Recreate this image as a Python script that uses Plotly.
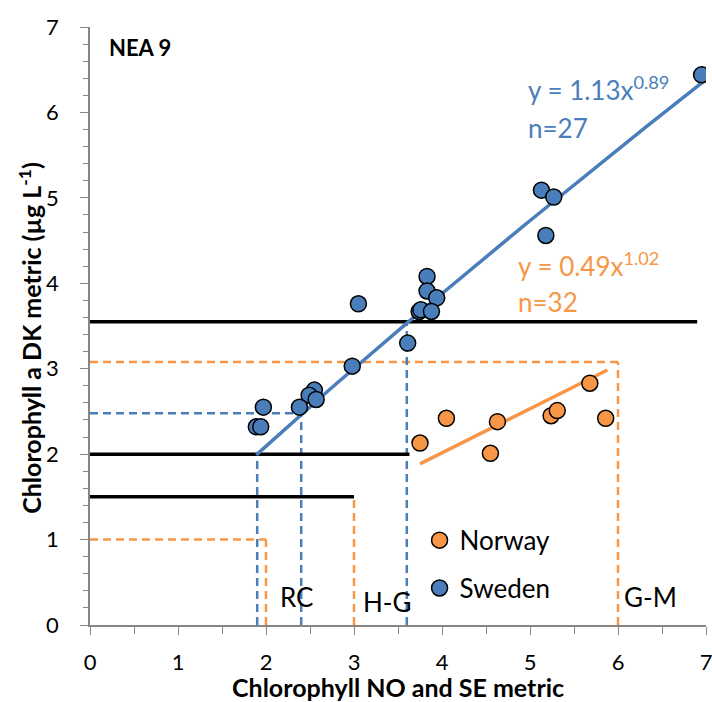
import numpy as np
import plotly.graph_objects as go

# ---- data ----
sweden_x = [6.95, 5.13, 5.27, 5.18, 3.83, 3.83, 3.94, 3.74, 3.76, 3.88, 3.61, 3.05, 2.98,
            2.55, 2.49, 2.57, 2.38, 1.97, 1.89, 1.94]
sweden_y = [6.44, 5.09, 5.01, 4.56, 4.08, 3.91, 3.83, 3.67, 3.69, 3.67, 3.30, 3.76, 3.03,
            2.75, 2.69, 2.64, 2.55, 2.55, 2.32, 2.32]
norway_x = [3.75, 4.05, 4.63, 4.55, 5.24, 5.31, 5.86, 5.68]
norway_y = [2.13, 2.42, 2.38, 2.01, 2.45, 2.51, 2.42, 2.83]

# power trendlines as stated on the chart
sweden_fit = (1.13, 0.89, 1.89, 6.97)   # a, b, xmin, xmax
norway_fit = (0.49, 1.02, 3.75, 5.88)

# DK class boundaries (black lines): y value and x extent
dk_bound_y = [3.55, 2.0, 1.5]
dk_bound_xend = [6.9, 3.63, 3.0]

# Swedish boundaries (blue dashed)
se_bound_x = [1.9, 2.4, 3.6]
se_bound_y = [2.0, 2.48, 3.55]
se_bound_h = [False, True, False]

# Norwegian boundaries (orange dashed)
no_bound_x = [2.0, 3.0, 6.0]
no_bound_y = [1.0, 1.5, 3.08]
no_bound_h = [True, False, True]

BLUE = "#4A7EBB"
ORANGE = "#F79646"
FONT = "Lato"

fig = go.Figure()

def dashed(xs, ys, hs, color):
    for bx, by, h in zip(xs, ys, hs):
        fig.add_trace(go.Scatter(x=[bx, bx], y=[0, by], mode="lines",
                                 line=dict(color=color, width=2.5, dash="8px,5px"),
                                 showlegend=False, hoverinfo="skip"))
        if h:
            fig.add_trace(go.Scatter(x=[0, bx], y=[by, by], mode="lines",
                                     line=dict(color=color, width=2.5, dash="8px,5px"),
                                     showlegend=False, hoverinfo="skip"))

dashed(no_bound_x, no_bound_y, no_bound_h, ORANGE)
dashed(se_bound_x, se_bound_y, se_bound_h, BLUE)

for by, xe in zip(dk_bound_y, dk_bound_xend):
    fig.add_trace(go.Scatter(x=[0, xe], y=[by, by], mode="lines",
                             line=dict(color="black", width=3.5),
                             showlegend=False, hoverinfo="skip"))

for (a, b, x0, x1), col in [(sweden_fit, BLUE), (norway_fit, ORANGE)]:
    xx = np.linspace(x0, x1, 40)
    fig.add_trace(go.Scatter(x=xx, y=a * xx ** b, mode="lines",
                             line=dict(color=col, width=3.5),
                             showlegend=False, hoverinfo="skip"))

fig.add_trace(go.Scatter(x=norway_x, y=norway_y, mode="markers", name="Norway",
                         legendgroup="no",
                         marker=dict(color=ORANGE, size=16, line=dict(color="black", width=1.5))))
fig.add_trace(go.Scatter(x=sweden_x, y=sweden_y, mode="markers", name="Sweden",
                         legendgroup="se",
                         marker=dict(color=BLUE, size=16, line=dict(color="black", width=1.5))))

ann = [
    dict(x=0.19, y=6.76, text="<b>NEA 9</b>", xanchor="left", font=dict(size=22, color="black")),
    dict(x=2.35, y=0.33, text="RC", font=dict(size=26, color="black")),
    dict(x=3.38, y=0.27, text="H-G", font=dict(size=26, color="black")),
    dict(x=6.37, y=0.33, text="G-M", font=dict(size=26, color="black")),
    dict(x=4.95, y=6.28, text="y = 1.13x<sup>0.89</sup>", xanchor="left", font=dict(size=26, color=BLUE)),
    dict(x=4.95, y=5.82, text="n=27", xanchor="left", font=dict(size=26, color=BLUE)),
    dict(x=4.84, y=4.22, text="y = 0.49x<sup>1.02</sup>", xanchor="left", font=dict(size=26, color=ORANGE)),
    dict(x=4.84, y=3.78, text="n=32", xanchor="left", font=dict(size=26, color=ORANGE)),
]
for a in ann:
    a.update(xref="x", yref="y", showarrow=False)
    a["font"]["family"] = FONT

# axis titles as annotations for precise placement
ann.append(dict(xref="paper", yref="paper", x=-0.096, y=0.48, textangle=-90,
                text="<b>Chlorophyll a DK metric (µg L<sup>-1</sup>)</b>", showarrow=False,
                xanchor="center", yanchor="middle",
                font=dict(size=25, family=FONT, color="black")))
ann.append(dict(xref="paper", yref="paper", x=0.5, y=-0.103,
                text="<b>Chlorophyll NO and SE metric</b>", showarrow=False,
                xanchor="center", yanchor="middle",
                font=dict(size=25, family=FONT, color="black")))

axis_common = dict(showgrid=False, zeroline=False, showline=True, linecolor="#868686",
                   linewidth=1.5, ticks="outside", tickcolor="#868686", ticklen=8,
                   tickfont=dict(size=22, color="black", family=FONT), mirror=False,
                   automargin=False, ticklabeloverflow="allow")

fig.update_layout(
    width=712, height=702,
    margin=dict(l=90, r=6, t=27, b=77),
    paper_bgcolor="white", plot_bgcolor="white",
    font=dict(family=FONT, color="black"),
    annotations=ann,
    legend=dict(x=0.535, y=0.181, xanchor="left", yanchor="top",
                font=dict(size=26, family=FONT, color="black"),
                traceorder="grouped", tracegroupgap=11, bgcolor="rgba(0,0,0,0)"),
    xaxis=dict(range=[0, 7], dtick=1, tick0=0,
               minor=dict(dtick=0.5, ticks="outside", ticklen=7, tickcolor="#868686"),
               ticklabelstandoff=9, **axis_common),
    yaxis=dict(range=[0, 7], dtick=1, tick0=0,
               minor=dict(dtick=0.2, ticks="outside", ticklen=5, tickcolor="#868686"),
               ticklabelstandoff=17, **axis_common),
)

fig.write_html("out.html")
